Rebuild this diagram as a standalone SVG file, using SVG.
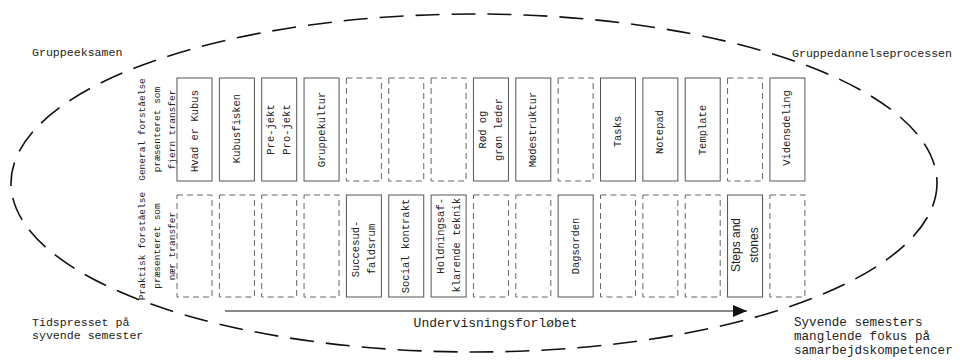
<svg xmlns="http://www.w3.org/2000/svg" width="960" height="360" viewBox="0 0 960 360">
<defs>
<style>
.bg{fill:#fff}
.ell{fill:none;stroke:#111;stroke-width:1.6;stroke-dasharray:24 12}
.box{fill:#fff;stroke:#555;stroke-width:1}
.dbox{fill:#fff;stroke:#666;stroke-width:1;stroke-dasharray:6 4}
.t{font-family:"Liberation Mono","DejaVu Sans Mono",monospace;font-size:10.5px;fill:#222;text-anchor:middle;dominant-baseline:central}
.s{font-family:"Liberation Sans",Arial,sans-serif;font-size:12px;fill:#222;text-anchor:middle;dominant-baseline:central}
.rl{font-family:"Liberation Mono","DejaVu Sans Mono",monospace;font-size:9.5px;fill:#222;text-anchor:middle;dominant-baseline:central}
.lab{font-family:"Liberation Mono","DejaVu Sans Mono",monospace;font-size:11.6px;fill:#222}
.lab13{font-family:"Liberation Mono","DejaVu Sans Mono",monospace;font-size:12.6px;fill:#222}
.arr{stroke:#111;stroke-width:1.2;fill:none}
</style>
<marker id="ah" markerUnits="userSpaceOnUse" markerWidth="16" markerHeight="14" refX="14" refY="6" orient="auto">
<path d="M0,0 L14,6 L0,12 Z" fill="#111"/>
</marker>
</defs>
<rect class="bg" x="0" y="0" width="960" height="360"/>
<g id="frame">
<ellipse class="ell" cx="474" cy="183" rx="463" ry="169"/>
</g>
<g id="labels">
<text class="lab" x="32" y="56">Gruppeeksamen</text>
<text class="lab" x="792" y="57">Gruppedannelseprocessen</text>
<text class="lab" x="32" y="326">Tidspresset på</text>
<text class="lab" x="32" y="338.5">syvende semester</text>
<text class="lab13" x="794" y="326">Syvende semesters</text>
<text class="lab13" x="794" y="340">manglende fokus på</text>
<text class="lab13" x="794" y="354">samarbejdskompetencer</text>
<text class="lab13" x="495.5" y="327" text-anchor="middle" style="font-size:13px">Undervisningsforløbet</text>
</g>
<g id="row-general">
<text class="rl" transform="translate(157,129.5) rotate(-90)"><tspan x="0" y="-15">General forståelse</tspan><tspan x="0" y="0">præsenteret som</tspan><tspan x="0" y="15">fjern transfer</tspan></text>
</g>
<g id="row-praktisk">
<text class="rl" transform="translate(157,246) rotate(-90)"><tspan x="0" y="-15">Praktisk forståelse</tspan><tspan x="0" y="0">præsenteret som</tspan><tspan x="0" y="15">nær transfer</tspan></text>
</g>
<!-- top row -->
<g id="t1"><rect class="box" x="177" y="78" width="35" height="103"/><text class="t" transform="translate(194.5,131) rotate(-90)">Hvad er Kubus</text></g>
<g id="t2"><rect class="box" x="219.4" y="78" width="35" height="103"/><text class="t" transform="translate(236.9,128.5) rotate(-90)">Kubusfisken</text></g>
<g id="t3"><rect class="box" x="261.7" y="78" width="35" height="103"/><text class="t" transform="translate(279.2,129.5) rotate(-90)"><tspan x="0" y="-8">Pre-jekt</tspan><tspan x="0" y="8">Pro-jekt</tspan></text></g>
<g id="t4"><rect class="box" x="304.05" y="78" width="35" height="103"/><text class="t" transform="translate(321.6,129.5) rotate(-90)">Gruppekultur</text></g>
<g id="t5"><rect class="dbox" x="346.4" y="78" width="35" height="103"/></g>
<g id="t6"><rect class="dbox" x="388.75" y="78" width="35" height="103"/></g>
<g id="t7"><rect class="dbox" x="431.1" y="78" width="35" height="103"/></g>
<g id="t8"><rect class="box" x="473.45" y="78" width="35" height="103"/><text class="t" transform="translate(491,129.5) rotate(-90)"><tspan x="0" y="-8">Rød og</tspan><tspan x="0" y="8">grøn leder</tspan></text></g>
<g id="t9"><rect class="box" x="515.8" y="78" width="35" height="103"/><text class="t" transform="translate(533.3,129.5) rotate(-90)">Mødestruktur</text></g>
<g id="t10"><rect class="dbox" x="558.15" y="78" width="35" height="103"/></g>
<g id="t11"><rect class="box" x="600.5" y="78" width="35" height="103"/><text class="t" transform="translate(618,131.5) rotate(-90)">Tasks</text></g>
<g id="t12"><rect class="box" x="642.85" y="78" width="35" height="103"/><text class="t" transform="translate(660.4,132) rotate(-90)">Notepad</text></g>
<g id="t13"><rect class="box" x="685.2" y="78" width="35" height="103"/><text class="t" transform="translate(702.7,130) rotate(-90)">Template</text></g>
<g id="t14"><rect class="dbox" x="727.55" y="78" width="35" height="103"/></g>
<g id="t15"><rect class="box" x="769.9" y="78" width="35" height="103"/><text class="t" transform="translate(787.4,128) rotate(-90)">Vidensdeling</text></g>
<!-- bottom row -->
<g id="b1"><rect class="dbox" x="177" y="195" width="35" height="102"/></g>
<g id="b2"><rect class="dbox" x="219.4" y="195" width="35" height="102"/></g>
<g id="b3"><rect class="dbox" x="261.7" y="195" width="35" height="102"/></g>
<g id="b4"><rect class="dbox" x="304.05" y="195" width="35" height="102"/></g>
<g id="b5"><rect class="box" x="346.4" y="195" width="35" height="102"/><text class="t" transform="translate(363.9,249) rotate(-90)"><tspan x="0" y="-8">Succesud-</tspan><tspan x="0" y="8">faldsrum</tspan></text></g>
<g id="b6"><rect class="box" x="388.75" y="195" width="35" height="102"/><text class="t" transform="translate(406.3,246) rotate(-90)">Social kontrakt</text></g>
<g id="b7"><rect class="box" x="431.1" y="195" width="35" height="102"/><text class="t" transform="translate(448.6,198) rotate(-90)" text-anchor="end"><tspan x="0" y="-8" text-anchor="end">Holdningsaf-</tspan><tspan x="0" y="8" text-anchor="end">klarende teknik</tspan></text></g>
<g id="b8"><rect class="dbox" x="473.45" y="195" width="35" height="102"/></g>
<g id="b9"><rect class="dbox" x="515.8" y="195" width="35" height="102"/></g>
<g id="b10"><rect class="box" x="558.15" y="195" width="35" height="102"/><text class="t" transform="translate(575.7,246) rotate(-90)">Dagsorden</text></g>
<g id="b11"><rect class="dbox" x="600.5" y="195" width="35" height="102"/></g>
<g id="b12"><rect class="dbox" x="642.85" y="195" width="35" height="102"/></g>
<g id="b13"><rect class="dbox" x="685.2" y="195" width="35" height="102"/></g>
<g id="b14"><rect class="box" x="727.55" y="195" width="35" height="102"/><text class="s" transform="translate(745.1,245) rotate(-90)"><tspan x="0" y="-9">Steps and</tspan><tspan x="0" y="9">stones</tspan></text></g>
<g id="b15"><rect class="dbox" x="769.9" y="195" width="35" height="102"/></g>
<g id="connectors">
<line class="arr" x1="225" y1="311" x2="747" y2="311" marker-end="url(#ah)"/>
</g>
</svg>
